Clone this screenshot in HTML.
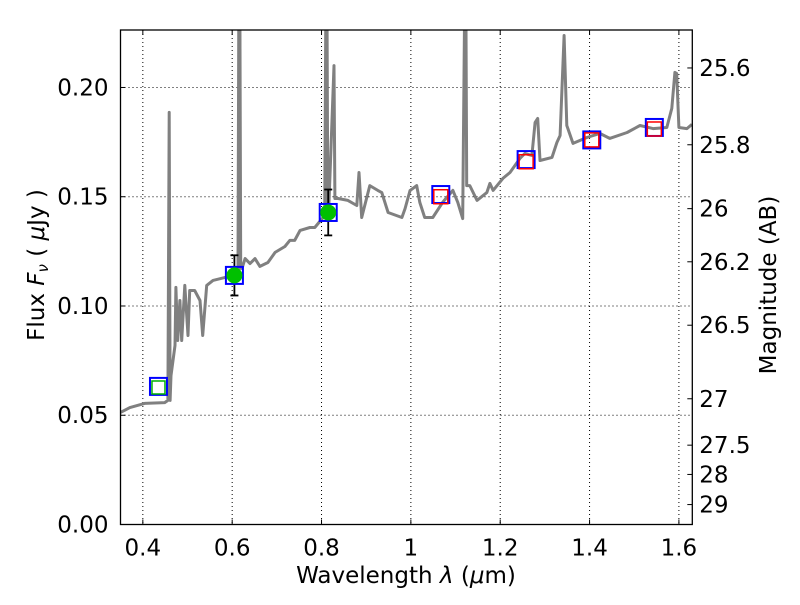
<!DOCTYPE html>
<html><head><meta charset="utf-8"><style>
body{margin:0;background:#fff;}
svg text{font-family:"DejaVu Sans","Liberation Sans",sans-serif;fill:#000;}
</style></head><body>
<svg id="chart" width="800" height="600" viewBox="0 0 800 600">
<g id="grid"></g>
<g id="plot"></g>
<g id="axes"></g>
</svg>
<script>
const specWl=[0.350,0.371,0.404,0.449,0.456,0.459,0.461,0.463,0.472,0.474,0.478,0.483,0.487,0.494,0.501,0.505,0.516,0.528,0.534,0.543,0.557,0.583,0.599,0.613,0.615,0.617,0.619,0.622,0.629,0.640,0.651,0.662,0.680,0.696,0.718,0.729,0.740,0.752,0.774,0.785,0.807,0.810,0.812,0.814,0.816,0.828,0.830,0.832,0.837,0.859,0.879,0.884,0.890,0.908,0.926,0.935,0.949,0.980,0.987,0.998,1.013,1.020,1.031,1.049,1.071,1.094,1.105,1.116,1.121,1.123,1.125,1.132,1.148,1.170,1.177,1.184,1.206,1.222,1.244,1.255,1.271,1.278,1.284,1.289,1.316,1.327,1.334,1.343,1.349,1.363,1.394,1.423,1.445,1.484,1.513,1.542,1.573,1.584,1.591,1.595,1.600,1.618,1.629];
const specFlux=[0.0513,0.0535,0.0554,0.0558,0.0568,0.1886,0.0568,0.0682,0.0819,0.1085,0.0842,0.1025,0.0842,0.1094,0.0865,0.1071,0.1071,0.1025,0.0865,0.1094,0.1117,0.1130,0.1140,0.1172,0.25,0.25,0.1172,0.1172,0.1217,0.1194,0.1217,0.1181,0.1199,0.1245,0.1272,0.1300,0.1300,0.1346,0.1359,0.1359,0.1414,0.25,0.25,0.1437,0.1437,0.210,0.1492,0.1492,0.1492,0.1483,0.1460,0.1611,0.1405,0.1551,0.1529,0.1519,0.1428,0.1405,0.1446,0.1528,0.1551,0.1474,0.1405,0.1405,0.1474,0.1529,0.1474,0.140,0.25,0.25,0.1551,0.1551,0.1483,0.1519,0.1561,0.1529,0.1584,0.1611,0.1675,0.1698,0.1689,0.1840,0.1858,0.1666,0.1680,0.1748,0.1780,0.2238,0.1826,0.1744,0.1771,0.1790,0.1767,0.1794,0.1826,0.1812,0.1817,0.1904,0.2069,0.2064,0.1817,0.1812,0.1831];
const photWl=[0.435,0.605,0.815,1.067,1.258,1.405,1.545];
const photFlux=[0.0632,0.114,0.1428,0.151,0.167,0.176,0.1817];
const detWl=[0.605,0.815];
const detFlux=[0.114,0.1428];
const detErr=[0.0092,0.0105];
const openGreenWl=[0.435];
const openGreenFlux=[0.0627];
const redWl=[1.067,1.258,1.405,1.545];
const redFlux=[0.150,0.166,0.176,0.181];
const xTicks=[0.4,0.6,0.8,1.0,1.2,1.4,1.6];
const xTickLabels=["0.4","0.6","0.8","1","1.2","1.4","1.6"];
const yTicks=[0,0.05,0.10,0.15,0.20];
const yTickLabels=["0.00","0.05","0.10","0.15","0.20"];
const magTicks=[25.6,25.8,26,26.2,26.5,27,27.5,28,29];
const magTickLabels=["25.6","25.8","26","26.2","26.5","27","27.5","28","29"];

const L=120.5,R=692.3,T=30,B=524.5;
const X0=0.35,X1=1.63,Y0=0,Y1=0.2263;
const FS=23;
const sx=v=>L+(v-X0)/(X1-X0)*(R-L);
const sy=v=>B-(v-Y0)/(Y1-Y0)*(B-T);
const magToFlux=m=>Math.pow(10,(23.9-m)/2.5);
const NS="http://www.w3.org/2000/svg";
function mk(tag,attrs,parent){const e=document.createElementNS(NS,tag);for(const k in attrs)e.setAttribute(k,attrs[k]);parent.appendChild(e);return e;}
const grid=document.getElementById('grid'),plot=document.getElementById('plot'),axes=document.getElementById('axes');

const defs=mk('defs',{},plot);
const cp=mk('clipPath',{id:'clip'},defs);
mk('rect',{x:L,y:T,width:R-L,height:B-T},cp);

xTicks.forEach((t,i)=>{
 const x=sx(t);
 const g=mk('line',{x1:x,x2:x,y1:T,y2:B,stroke:'#000','stroke-width':1,'stroke-dasharray':'1,3'},grid);
 
 
 const tk=mk('line',{x1:x,x2:x,y1:B,y2:B-5,stroke:'#000'},axes);
 
 
 const tk2=mk('line',{x1:x,x2:x,y1:T,y2:T+5,stroke:'#000'},axes);
 
 
 const lb=mk('text',{x:x,y:B+31,'text-anchor':'middle','font-size':FS},axes);
 lb.textContent=xTickLabels[i];
 
 
});
yTicks.forEach((t,i)=>{
 const y=sy(t);
 const g=mk('line',{x1:L,x2:R,y1:y,y2:y,stroke:'#000','stroke-width':1,'stroke-dasharray':'1,3'},grid);
 
 
 const tk=mk('line',{x1:L,x2:L+5,y1:y,y2:y,stroke:'#000'},axes);
 
 
 const lb=mk('text',{x:L-12,y:y+8,'text-anchor':'end','font-size':FS},axes);
 lb.textContent=yTickLabels[i];
 
 
});
magTicks.forEach((m,i)=>{
 const y=sy(magToFlux(m));
 const tk=mk('line',{x1:R,x2:R-5,y1:y,y2:y,stroke:'#000'},axes);
 
 
 const lb=mk('text',{x:R+7,y:y+8,'font-size':FS},axes);
 lb.textContent=magTickLabels[i];
 
 
});

const cg=mk('g',{'clip-path':'url(#clip)'},plot);
const d=specWl.map((w,i)=>(i?'L':'M')+sx(w).toFixed(1)+','+sy(specFlux[i]).toFixed(1)).join(' ');
const sp=mk('path',{d:d,fill:'none',stroke:'#808080','stroke-width':3,'stroke-linejoin':'round'},cg);



detWl.forEach((w,i)=>{
 const x=sx(w),y1=sy(detFlux[i]-detErr[i]),y2=sy(detFlux[i]+detErr[i]);
 const g=mk('g',{stroke:'#000','stroke-width':1.8},plot);
 
 
 mk('line',{x1:x,x2:x,y1:y1,y2:y2},g);
 mk('line',{x1:x-4,x2:x+4,y1:y1,y2:y1},g);
 mk('line',{x1:x-4,x2:x+4,y1:y2,y2:y2},g);
});
photWl.forEach((w,i)=>{
 const s=mk('rect',{x:sx(w)-8.5,y:sy(photFlux[i])-8.5,width:17,height:17,fill:'none',stroke:'#0000ff','stroke-width':2},plot);
 
 
});
openGreenWl.forEach((w,i)=>{
 const s=mk('rect',{x:sx(w)-6.5,y:sy(openGreenFlux[i])-6.5,width:13,height:13,fill:'none',stroke:'#00b000','stroke-width':1.5},plot);
 
 
});
detWl.forEach((w,i)=>{
 const c=mk('circle',{cx:sx(w),cy:sy(detFlux[i]),r:8,fill:'#00c000'},plot);
 
 
});
redWl.forEach((w,i)=>{
 const s=mk('rect',{x:sx(w)-7,y:sy(redFlux[i])-7,width:14,height:14,fill:'none',stroke:'#ff0000','stroke-width':1.5},plot);
 
 
});

const fr=mk('rect',{x:L,y:T,width:R-L,height:B-T,fill:'none',stroke:'#000','stroke-width':1.3},axes);



const xt=mk('text',{x:406,y:583,'text-anchor':'middle','font-size':FS},axes);
xt.innerHTML='Wavelength  <tspan font-style="italic">λ</tspan> (<tspan font-style="italic">μ</tspan>m)';


const yt=mk('text',{x:0,y:0,'text-anchor':'middle','font-size':FS,transform:'translate(44,265) rotate(-90)'},axes);
yt.innerHTML='Flux  <tspan font-style="italic">F</tspan><tspan font-style="italic" font-size="15" dy="4">ν</tspan><tspan dy="-4">  ( </tspan><tspan font-style="italic">μ</tspan>Jy )';


const rt=mk('text',{x:0,y:0,'text-anchor':'middle','font-size':FS,transform:'translate(776,285) rotate(-90)'},axes);
rt.textContent='Magnitude (AB)';


</script>
</body></html>
